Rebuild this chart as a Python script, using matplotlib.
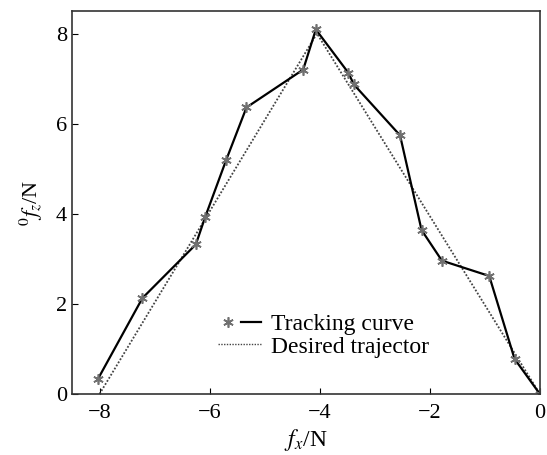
import matplotlib.pyplot as plt
from matplotlib.lines import Line2D
from matplotlib.legend_handler import HandlerTuple

plt.rcParams['font.family'] = 'Liberation Serif'
plt.rcParams['mathtext.fontset'] = 'stix'

# tracking curve
track_x = [-8.03, -7.22, -6.25, -6.08, -5.70, -5.33, -4.30, -4.07,
           -3.48, -3.38, -2.54, -2.15, -1.78, -0.92, -0.46, 0.0]
track_y = [0.33, 2.13, 3.32, 3.93, 5.19, 6.36, 7.20, 8.09,
           7.13, 6.87, 5.74, 3.64, 2.96, 2.62, 0.78, 0.0]

# desired trajectory
des_x = [-8.0, -4.05, 0.0]
des_y = [0.0, 8.0, 0.0]

xticks = [-8, -6, -4, -2, 0]
yticks = [0, 2, 4, 6, 8]

star = (6, 2, 0)  # asterisk marker

fig = plt.figure(figsize=(5.47, 4.55), dpi=100)
ax = fig.add_axes([0.1316, 0.134, 0.8554, 0.8418])

ax.plot(des_x, des_y, color='#444444', linestyle=(0, (1, 1)), linewidth=1.3)
ax.plot(track_x, track_y, color='black', linewidth=1.6)
ax.plot(track_x, track_y, linestyle='none', marker=star, markersize=7.5,
        color='#707070', markeredgewidth=1.2)

ax.set_xlim(-8.5, 0)
ax.set_ylim(0, 8.5)
ax.set_xticks(xticks)
ax.set_yticks(yticks)
ax.set_xticklabels(['\u22128', '\u22126', '\u22124', '\u22122', '0'])
ax.tick_params(direction='in', length=4, labelsize=16, colors='black')
ax.tick_params(axis='x', pad=7)
for s in ax.spines.values():
    s.set_color('#333333')
    s.set_linewidth(1.2)

ax.set_xlabel(r'$f_x$/N', fontsize=17, labelpad=3)
ax.set_ylabel(r'$^0f_z$/N', fontsize=16, labelpad=8)

h_star = Line2D([], [], linestyle='none', marker=star, markersize=7.5,
                color='#707070', markeredgewidth=1.2)
h_line = Line2D([], [], color='black', linewidth=1.6)
h_des = Line2D([], [], color='#444444', linestyle=(0, (1, 1)), linewidth=1.0)
ax.legend([(h_star, h_line), h_des], ['Tracking curve', 'Desired trajector'],
          handler_map={tuple: HandlerTuple(ndivide=2, pad=0.1)},
          loc='lower left', bbox_to_anchor=(0.2765, 0.052), frameon=False,
          fontsize=17, handlelength=1.84, handletextpad=0.4, labelspacing=0.05,
          borderpad=0.2)

fig.savefig('out.png', dpi=100)
